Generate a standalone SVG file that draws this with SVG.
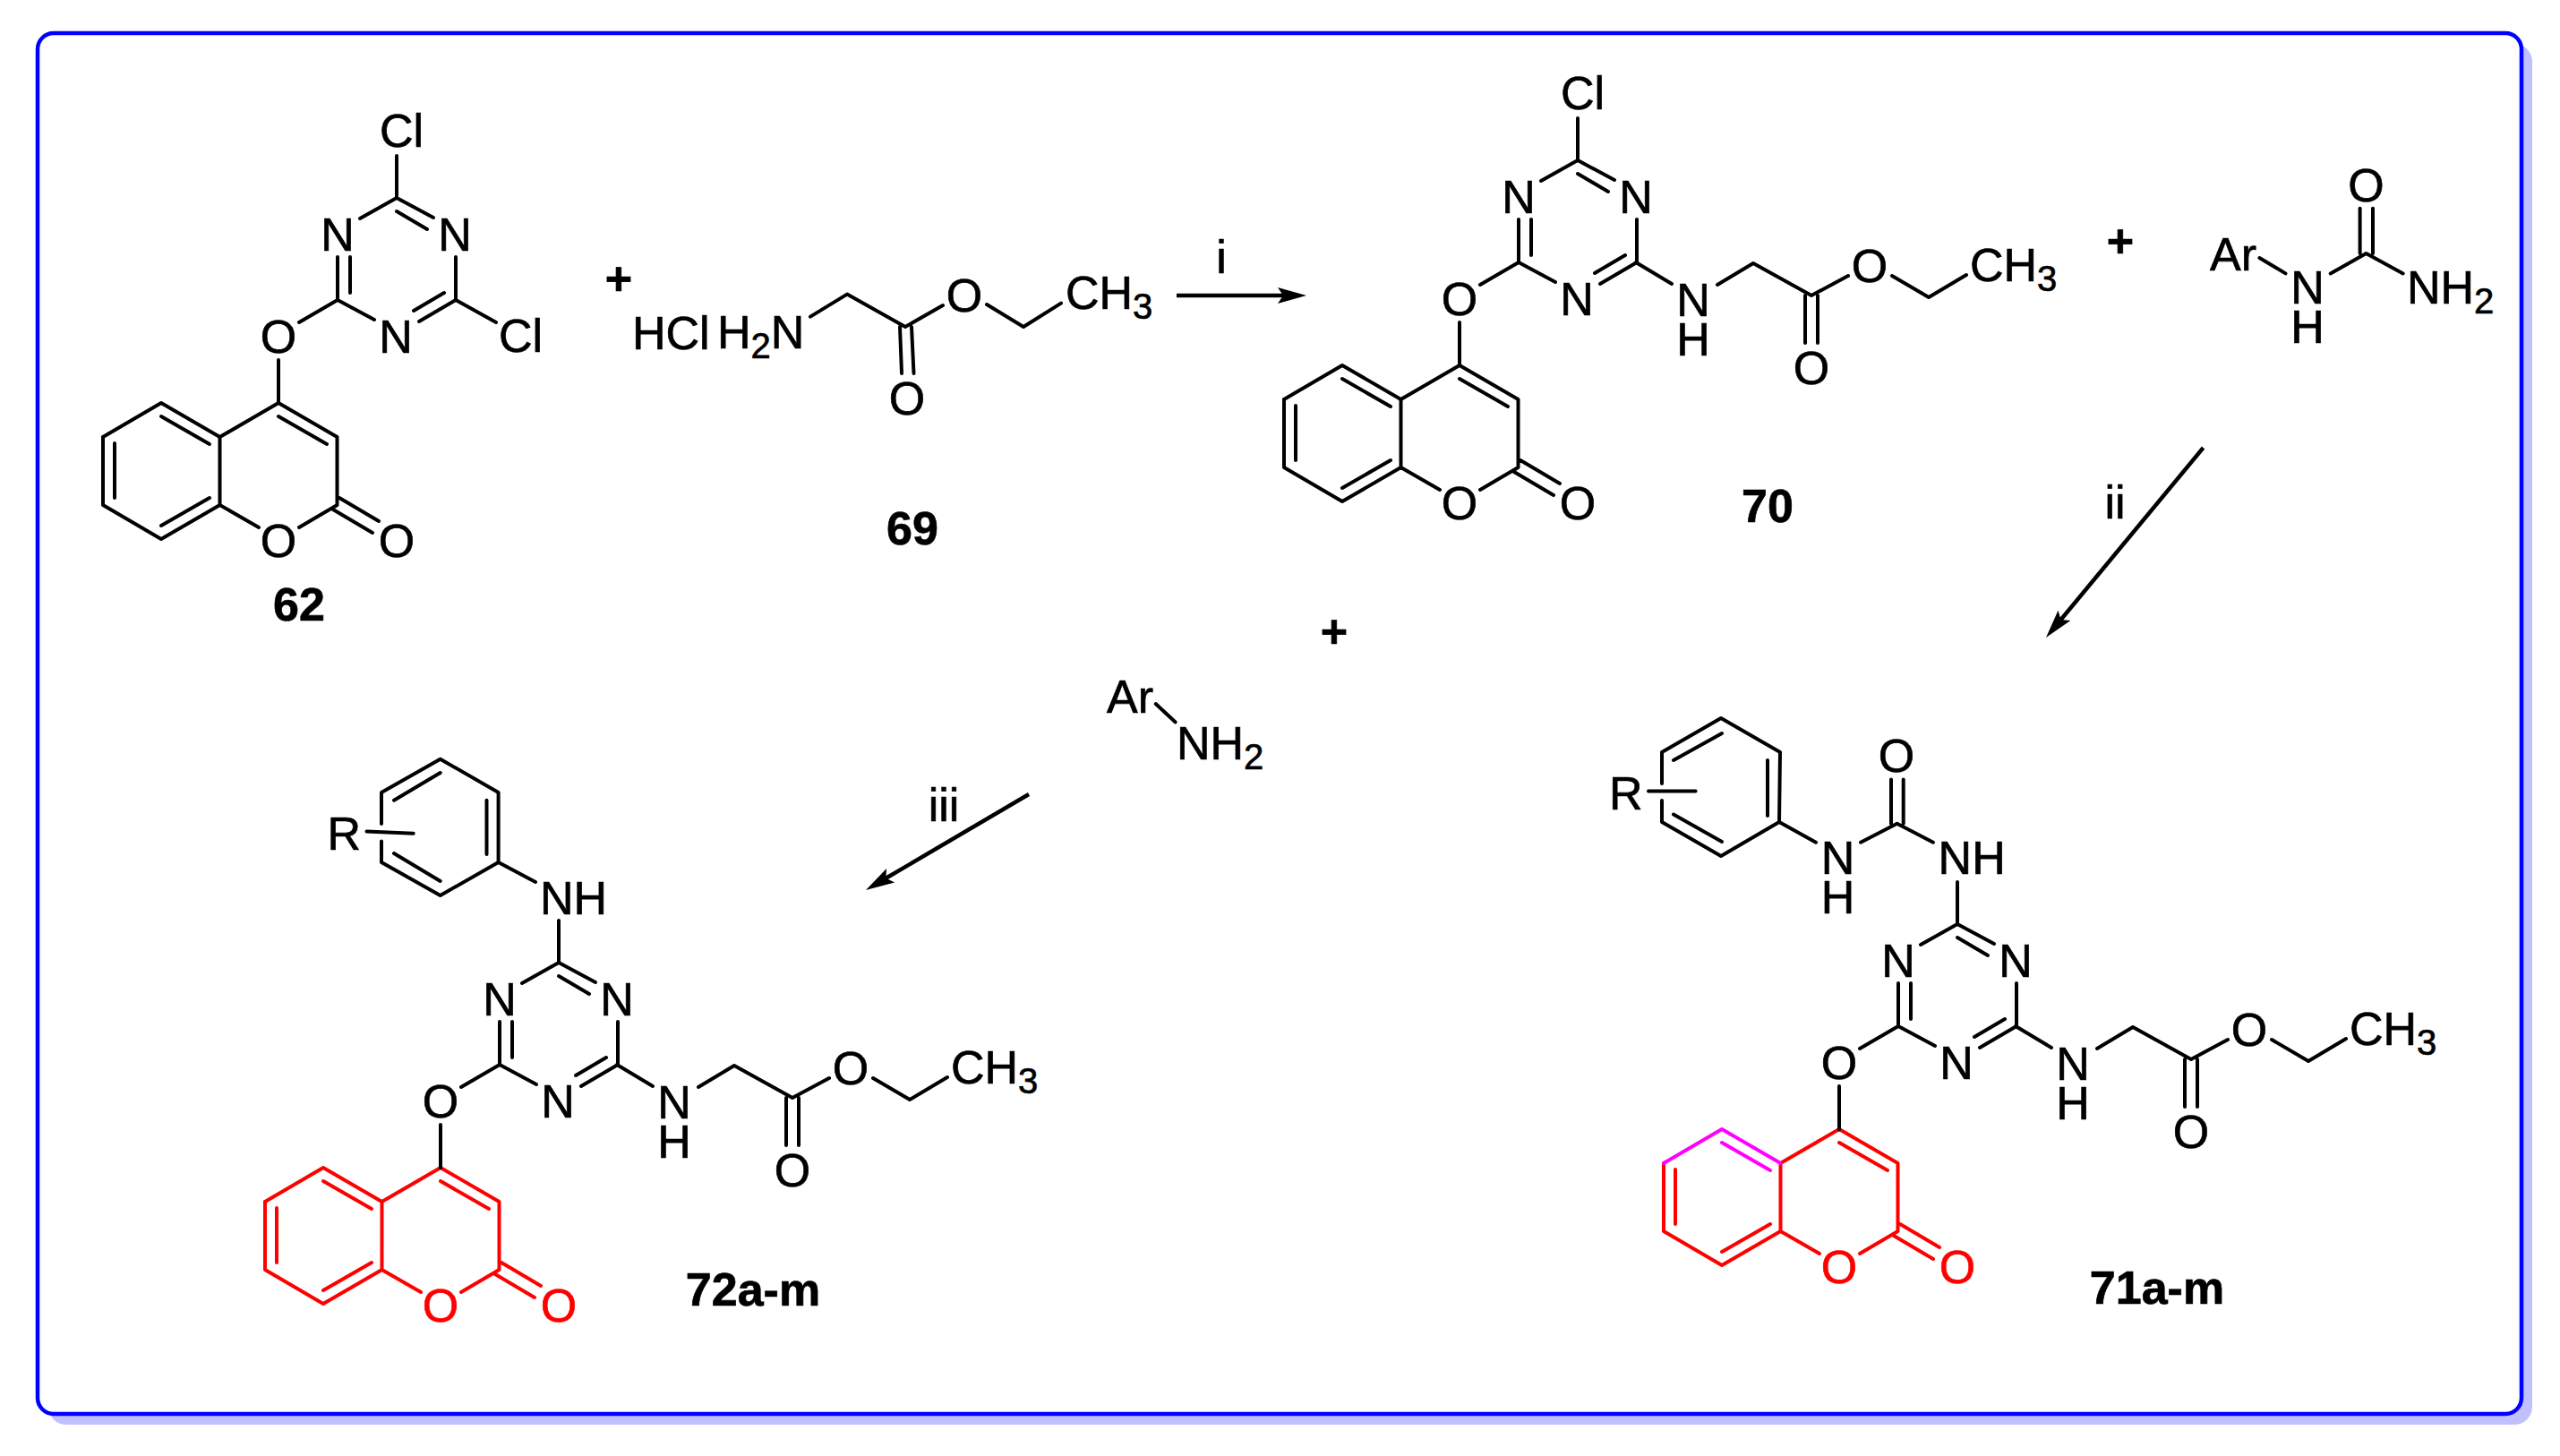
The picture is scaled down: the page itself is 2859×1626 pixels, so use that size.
<svg xmlns="http://www.w3.org/2000/svg" xmlns:xlink="http://www.w3.org/1999/xlink" width="2859" height="1626" viewBox="0 0 2859 1626">
<style>
text{font-family:"Liberation Sans",Arial,sans-serif;font-size:52px;fill:#000;stroke:#000;stroke-width:.7}
.m{text-anchor:middle}
.b{font-weight:bold}
.s{font-size:40px}
text.red{fill:#f00;stroke:#f00}
.bond{fill:none;stroke:#000;stroke-width:4;stroke-linecap:round;stroke-linejoin:round}
.bond.r{stroke:#f00}
.bond.g{stroke:#f0f}
.arrow{fill:none;stroke:#000;stroke-width:4.5}
</style>
<defs>
<marker id="head" markerUnits="userSpaceOnUse" markerWidth="44" markerHeight="28" viewBox="-10 -14 44 28" refX="0" refY="0" orient="auto">
<path d="M-6,-9 L26,0 L-6,9 L0,0 Z" fill="#000"/>
</marker>
<path id="coumA" d="M0,0 L65.5,38 L65.5,114 L23,139 M-22,139 L-65.5,114 L-65.5,38 L0,0 M0,15 L54,46 M-65.5,114 L-131,152 L-196,114 L-196,38 M-183,45 L-183,106 M-77,106 L-131,137 M68,106 L112,132 M61,119 L105,145"/>
<path id="coumB" d="M-65.5,38 L-131,0 L-196,38 M-77,46 L-131,15"/>
<path id="triaz" d="M0,-48 L0,0 M23,-90 L66,-115 L107,-93 M66,-115 L66,-163 M80,-123 L80,-163 M91,-206 L132,-229 L173,-207 M132,-214 L166,-194 M198,-163 L198,-115 L157,-91 M185,-123 L151,-103 M132,-229 L132,-276"/>
<path id="chain" d="M197,-115 L237,-91 M288,-90 L328,-114 L393,-78 M386,-78 L386,-25 M400,-78 L400,-25 M393,-78 L434,-100 M483,-100 L524,-76 L566,-101"/>
</defs>
<rect width="2859" height="1626" fill="#fff"/>
<g id="frame">
<rect x="54" y="49" width="2774" height="1542" rx="20" fill="#c0c0ff"/>
<rect x="42" y="37" width="2774" height="1542" rx="18" fill="#fff" stroke="#00f" stroke-width="4.5"/>
</g>
<g id="connectors">
<line class="arrow" x1="1314" y1="330" x2="1433" y2="330" marker-end="url(#head)"/>
<line class="arrow" x1="2460.6" y1="500" x2="2301.6" y2="692" marker-end="url(#head)"/>
<line class="arrow" x1="1149" y1="887" x2="989.4" y2="980.8" marker-end="url(#head)"/>
</g>
<g id="label-i"><text class="m" x="1364" y="304.5">i</text></g>
<g id="label-ii"><text class="m" x="2362" y="579">ii</text></g>
<g id="label-iii"><text class="m" x="1054" y="917">iii</text></g>
<g id="plus-1"><text class="m b" x="691" y="329">+</text></g>
<g id="plus-2"><text class="m b" x="2368" y="287">+</text></g>
<g id="plus-3"><text class="m b" x="1490" y="723">+</text></g>

<g id="compound-62" transform="translate(311,450)">
<use class="bond" xlink:href="#coumA" href="#coumA"/>
<use class="bond" xlink:href="#coumB" href="#coumB"/>
<use class="bond" xlink:href="#triaz" href="#triaz"/>
<path class="bond" d="M198,-115 L243,-90"/>
<text class="m" x="0" y="-56.5">O</text>
<text class="m" x="0" y="171.5">O</text>
<text class="m" x="132" y="171.5">O</text>
<text class="m" x="66" y="-170.5">N</text>
<text class="m" x="197" y="-170.5">N</text>
<text class="m" x="131" y="-56.5">N</text>
<text x="113" y="-286">Cl</text>
<text x="246" y="-57">Cl</text>
<text class="m b" x="23" y="243">62</text>
</g>

<g id="compound-69">
<text x="706" y="390">HCl</text>
<text x="801" y="389">H<tspan class="s" dy="11">2</tspan><tspan dy="-11">N</tspan></text>
<path class="bond" d="M905,353.6 L946,328.6 L1011,365 M1005,365 L1007,417 M1018,365 L1020.5,417 M1011,365 L1053,341 M1102,340 L1143,365 L1185,338.6"/>
<text class="m" x="1013" y="463">O</text>
<text class="m" x="1077" y="347.5">O</text>
<text x="1190" y="344.5">CH<tspan class="s" dy="11">3</tspan></text>
<text class="m b" x="1019" y="607.5">69</text>
</g>

<g id="compound-70" transform="translate(1630,408)">
<use class="bond" xlink:href="#coumA" href="#coumA"/>
<use class="bond" xlink:href="#coumB" href="#coumB"/>
<use class="bond" xlink:href="#triaz" href="#triaz"/>
<use class="bond" xlink:href="#chain" href="#chain"/>
<text class="m" x="0" y="-56.5">O</text>
<text class="m" x="0" y="171.5">O</text>
<text class="m" x="132" y="171.5">O</text>
<text class="m" x="66" y="-170.5">N</text>
<text class="m" x="197" y="-170.5">N</text>
<text class="m" x="131" y="-56.5">N</text>
<text x="113" y="-286">Cl</text>
<text class="m" x="261" y="-55">N</text>
<text class="m" x="261" y="-11">H</text>
<text class="m" x="393" y="21">O</text>
<text class="m" x="458" y="-93">O</text>
<text x="570" y="-94">CH<tspan class="s" dy="11">3</tspan></text>
<text class="m b" x="344" y="175">70</text>
</g>

<g id="aryl-urea">
<path class="bond" d="M2523.4,288 L2552.5,305.4 M2602.7,305.4 L2642.5,283 L2683.7,305.4 M2635.6,283 L2635.6,232.7 M2650,283 L2650,232.7"/>
<text x="2468" y="301.5">Ar</text>
<text class="m" x="2577" y="339">N</text>
<text class="m" x="2577" y="383">H</text>
<text class="m" x="2642.5" y="225">O</text>
<text x="2688" y="339">NH<tspan class="s" dy="11">2</tspan></text>
</g>

<g id="aryl-amine">
<path class="bond" d="M1290.7,786 L1312.7,806.5"/>
<text x="1236" y="796">Ar</text>
<text x="1314" y="848">NH<tspan class="s" dy="11">2</tspan></text>
</g>

<g id="compound-71" transform="translate(2054,1261)">
<use class="bond r" xlink:href="#coumA" href="#coumA"/>
<use class="bond g" xlink:href="#coumB" href="#coumB"/>
<use class="bond" xlink:href="#triaz" href="#triaz"/>
<use class="bond" xlink:href="#chain" href="#chain"/>
<path class="bond" d="M-198,-421 L-132,-459 L-66,-421 L-67,-343 L-132,-305 L-198,-343 L-198,-367 M-198,-386 L-198,-421 M-185,-412 L-131,-442 M-80,-412 L-80,-350 M-185,-351.5 L-131,-321 M-213,-377.4 L-160.4,-377.4 M-67,-343 L-26,-320.3 M24,-320.3 L64.6,-341.3 L105,-320.3 M58,-341.3 L58,-390.4 M71.7,-341.3 L71.7,-390.4"/>
<text class="m" x="0" y="-56.5">O</text>
<text class="m red" x="0" y="171.5">O</text>
<text class="m red" x="132" y="171.5">O</text>
<text class="m" x="66" y="-170.5">N</text>
<text class="m" x="197" y="-170.5">N</text>
<text class="m" x="131" y="-56.5">N</text>
<text x="110.6" y="-284.6">NH</text>
<text class="m" x="-1.5" y="-284.6">N</text>
<text class="m" x="-1.5" y="-241">H</text>
<text class="m" x="64" y="-399">O</text>
<text x="-257" y="-357.3">R</text>
<text class="m" x="261" y="-55">N</text>
<text class="m" x="261" y="-11">H</text>
<text class="m" x="393" y="21">O</text>
<text class="m" x="458" y="-93">O</text>
<text x="570" y="-94">CH<tspan class="s" dy="11">3</tspan></text>
<text class="m b" x="355" y="195">71a-m</text>
</g>

<g id="compound-72" transform="translate(492,1304)">
<use class="bond r" xlink:href="#coumA" href="#coumA"/>
<use class="bond r" xlink:href="#coumB" href="#coumB"/>
<use class="bond" xlink:href="#triaz" href="#triaz"/>
<use class="bond" xlink:href="#chain" href="#chain"/>
<path class="bond" d="M-66,-384 L-66,-419 L-0.3,-456.3 L64.6,-419 L64.6,-341 L-0.3,-304 L-66,-341 L-66,-364.4 M-52,-410.3 L-0.3,-441 M51.5,-410.3 L51.5,-350 M-52,-351 L-0.3,-320 M-82.5,-375.5 L-30.3,-373.3 M64.6,-341 L106,-319"/>
<text class="m" x="0" y="-56.5">O</text>
<text class="m red" x="0" y="171.5">O</text>
<text class="m red" x="132" y="171.5">O</text>
<text class="m" x="66" y="-170.5">N</text>
<text class="m" x="197" y="-170.5">N</text>
<text class="m" x="131" y="-56.5">N</text>
<text x="111" y="-283">NH</text>
<text x="-126.5" y="-355.4">R</text>
<text class="m" x="261" y="-55">N</text>
<text class="m" x="261" y="-11">H</text>
<text class="m" x="393" y="21">O</text>
<text class="m" x="458" y="-93">O</text>
<text x="570" y="-94">CH<tspan class="s" dy="11">3</tspan></text>
<text class="m b" x="349" y="154">72a-m</text>
</g>
</svg>
